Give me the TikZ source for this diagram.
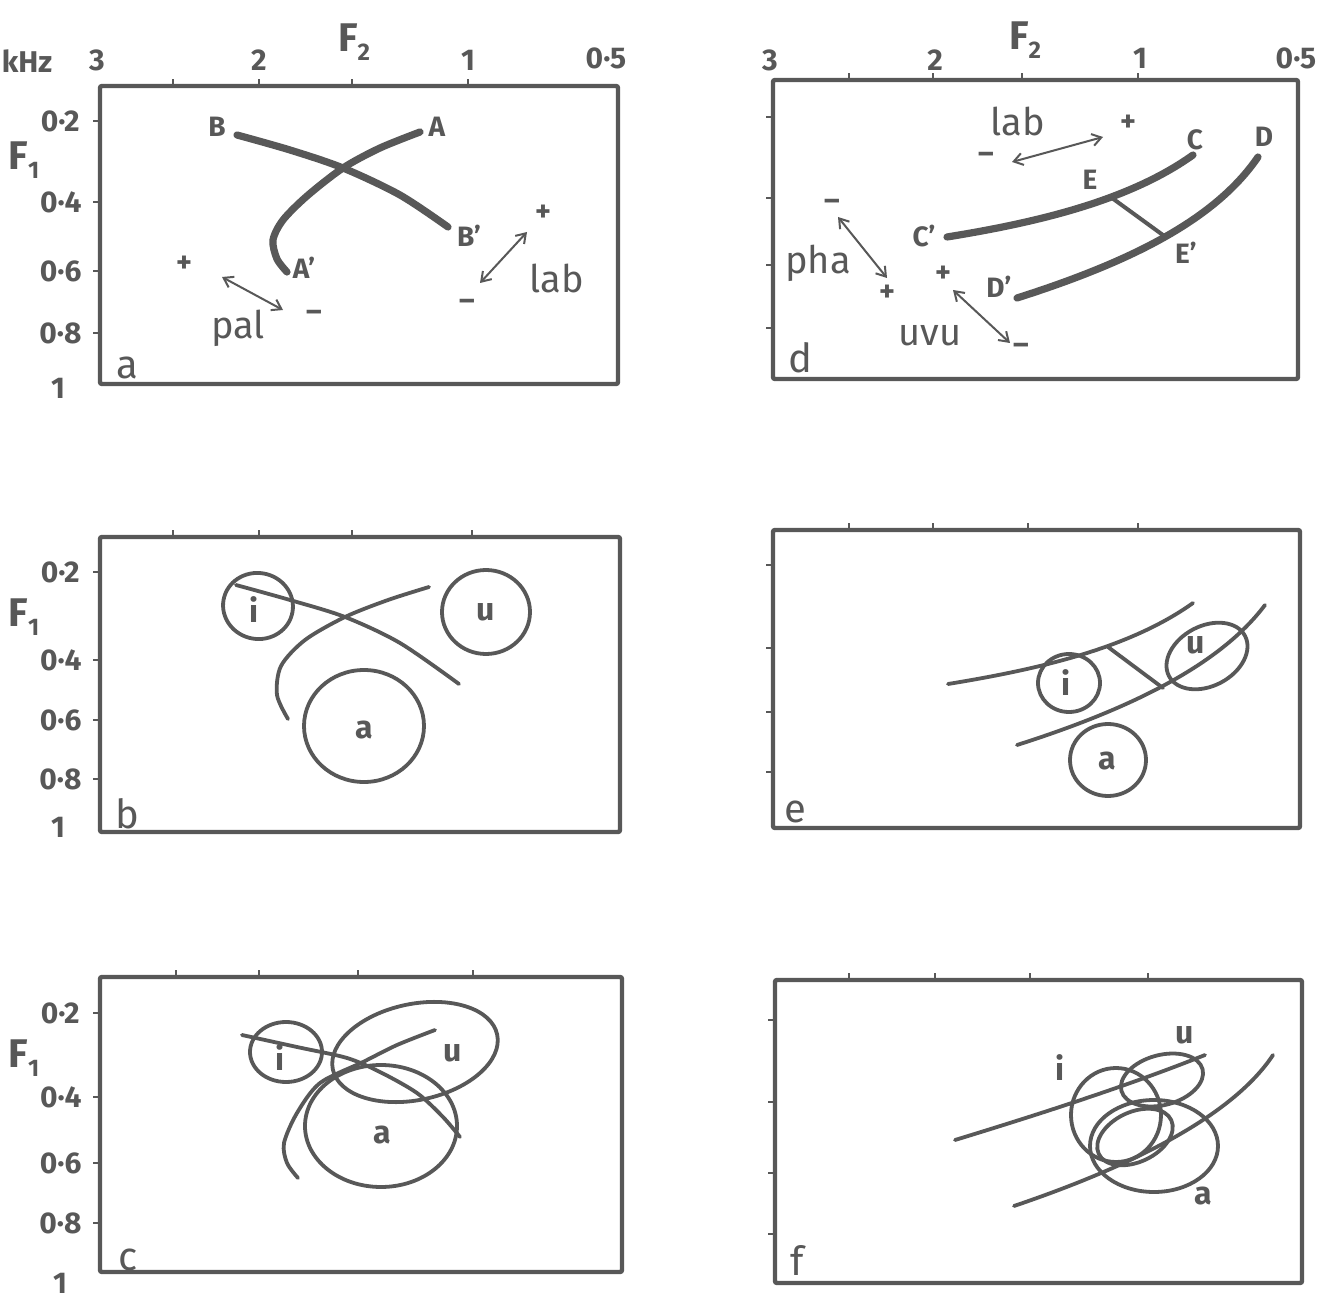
\documentclass[tikz,border=0pt]{standalone}
\usepackage{fontspec}
\setmainfont{Fira Sans}
\usetikzlibrary{arrows.meta}
\definecolor{ink}{RGB}{88,88,88}
\newcommand{\Fsub}[1]{F\raisebox{-0.45ex}{\fontsize{12}{12}\selectfont #1}}
\tikzset{
  every node/.style={text=ink, inner sep=0pt},
  panelframe/.style={draw=ink, line width=2.2pt, rounded corners=1pt},
  tickmark/.style={draw=ink, line width=1.3pt},
  heavycurve/.style={draw=ink, line width=3.6pt, line cap=round},
  lightcurve/.style={draw=ink, line width=1.9pt, line cap=round},
  dblarrow/.style={draw=ink, line width=1pt, {Straight Barb[length=4.5pt,width=6pt]}-{Straight Barb[length=4.5pt,width=6pt]}},
  axisnum/.style={font=\fontsize{15}{15}\selectfont\bfseries},
  axisname/.style={font=\fontsize{20}{20}\selectfont\bfseries},
  ptlabel/.style={font=\fontsize{14}{14}\selectfont\bfseries},
  word/.style={font=\fontsize{19}{19}\selectfont},
  panelid/.style={font=\fontsize{20}{20}\selectfont},
  vowel/.style={font=\fontsize{16}{16}\selectfont\bfseries},
  sign/.style={font=\fontsize{15}{15}\selectfont\bfseries},
}
\begin{document}
\begin{tikzpicture}[x=0.5pt,y=-0.5pt]
\useasboundingbox (0,0) rectangle (1330,1305);
\fill[white] (0,0) rectangle (1330,1305);

% ================= left column axis labels =================
\node[axisname] (F2a) at (354,42) {\Fsub{2}};
\node[axisnum] (kHz) at (27,61) {kHz};
\node[axisnum] (xa3) at (97,60) {3};
\node[axisnum] (xa2) at (259,60) {2};
\node[axisnum] (xa1) at (468,60) {1};
\node[axisnum] (xa05) at (606,58) {0·5};

% ---------- panel a ----------
\draw[panelframe] (100,86) rectangle (618,384);
\foreach \t in {173,259,352,468} \draw[tickmark] (\t,86) -- (\t,79);
\foreach \t in {121,202,271,333} \draw[tickmark] (100,\t) -- (93,\t);
\node[axisnum,anchor=east] (ya02) at (80,121) {0·2};
\node[axisname] (F1a) at (24,160) {\Fsub{1}};
\node[axisnum,anchor=east] (ya04) at (82,202) {0·4};
\node[axisnum,anchor=east] (ya06) at (82,271) {0·6};
\node[axisnum,anchor=east] (ya08) at (82,333) {0·8};
\node[axisnum] (ya1) at (58,388) {1};
\node[panelid] (pa) at (127,368) {a};

\draw[heavycurve] plot[smooth] coordinates {(237,135) (290,150) (343,168) (400,195) (448,227)};
\draw[heavycurve] plot[smooth] coordinates {(420,132) (380,148) (343,168) (307,196) (283,220) (273,240) (277,259) (287,272)};
\node[ptlabel] (lB) at (217,127) {B};
\node[ptlabel] (lA) at (437,127) {A};
\node[ptlabel] (lA2) at (304,268) {A'};
\node[ptlabel] (lB2) at (469,236) {B'};
\node[sign] (pplus) at (184,264) {+};
\node[sign] (pminus) at (314,316) {–};
\node[word] (pal) at (238,328) {pal};
\coordinate (palA) at (222,277);
\coordinate (palB) at (283,310);
\draw[dblarrow] (palA) -- (palB);
\node[sign] (lplus) at (543,213) {+};
\node[sign] (lminus) at (467,305) {–};
\node[word] (laba) at (557,278) {lab};
\coordinate (labA) at (527,232);
\coordinate (labB) at (480,283);
\draw[dblarrow] (labA) -- (labB);

% ---------- panel b ----------
\draw[panelframe] (100,537) rectangle (620,832);
\foreach \t in {173,259,352,472} \draw[tickmark] (\t,537) -- (\t,530);
\foreach \t in {572,660,720,779} \draw[tickmark] (100,\t) -- (93,\t);
\node[axisnum,anchor=east] (yb02) at (80,572) {0·2};
\node[axisname] (F1b) at (24,617) {\Fsub{1}};
\node[axisnum,anchor=east] (yb04) at (82,660) {0·4};
\node[axisnum,anchor=east] (yb06) at (82,720) {0·6};
\node[axisnum,anchor=east] (yb08) at (82,779) {0·8};
\node[axisnum] (yb1) at (58,827) {1};
\node[panelid] (pb) at (127,814) {b};

\draw[lightcurve] plot[smooth] coordinates {(236,585) (290,600) (345,617) (400,643) (459,684)};
\draw[lightcurve] plot[smooth] coordinates {(429,587) (388,600) (345,617) (305,640) (281,666) (277,695) (288,719)};
\draw[lightcurve, shift={(258,606)}, rotate=-10] (0,0) ellipse [x radius=17.5pt, y radius=16.5pt];
\draw[lightcurve] (486,612) ellipse [x radius=22pt, y radius=21pt];
\draw[lightcurve] (364,726) ellipse [x radius=30pt, y radius=28pt];
\node[vowel] (bi) at (254,610) {i};
\node[vowel] (bu) at (486,612) {u};
\node[vowel] (ba) at (364,730) {a};

% ---------- panel c ----------
\draw[panelframe] (100,977) rectangle (622,1272);
\foreach \t in {176,259,358,473} \draw[tickmark] (\t,977) -- (\t,970);
\foreach \t in {1013,1097,1163,1223} \draw[tickmark] (100,\t) -- (93,\t);
\node[axisnum,anchor=east] (yc02) at (80,1013) {0·2};
\node[axisname] (F1c) at (24,1058) {\Fsub{1}};
\node[axisnum,anchor=east] (yc04) at (82,1097) {0·4};
\node[axisnum,anchor=east] (yc06) at (82,1163) {0·6};
\node[axisnum,anchor=east] (yc08) at (82,1223) {0·8};
\node[axisnum] (yc1) at (60,1283) {1};
\node[panelid] (pc) at (128,1260) {c};

\draw[lightcurve] plot[smooth] coordinates {(242,1035) (297,1047) (347,1058) (380,1072) (417,1093) (443,1117) (460,1137)};
\draw[lightcurve] plot[smooth] coordinates {(435,1030) (397,1045) (363,1062) (320,1083) (297,1113) (284,1143) (287,1163) (298,1178)};
\draw[lightcurve] (286,1052) ellipse [x radius=18pt, y radius=15pt];
\draw[lightcurve, shift={(415,1052)}, rotate=12] (0,0) ellipse [x radius=42pt, y radius=24pt];
\draw[lightcurve] (381,1126) ellipse [x radius=38pt, y radius=30.5pt];
\node[vowel] (ci) at (280,1058) {i};
\node[vowel] (cu) at (453,1053) {u};
\node[vowel] (ca) at (382,1135) {a};

% ================= right column =================
\node[axisname] (F2d) at (1025,40) {\Fsub{2}};
\node[axisnum] (xd3) at (770,60) {3};
\node[axisnum] (xd2) at (935,60) {2};
\node[axisnum] (xd1) at (1140,58) {1};
\node[axisnum] (xd05) at (1296,58) {0·5};

% ---------- panel d ----------
\draw[panelframe] (773,80) rectangle (1298,379);
\foreach \t in {849,933,1022,1138} \draw[tickmark] (\t,80) -- (\t,73);
\foreach \t in {117,198,265,328} \draw[tickmark] (773,\t) -- (766,\t);
\node[panelid] (pd) at (800,358) {d};

\draw[heavycurve] (947,237) .. controls (1040,222) and (1130,200) .. (1193,155);
\draw[heavycurve] (1017,298) .. controls (1130,262) and (1215,220) .. (1258,157);
\coordinate (E) at (1112,198);
\coordinate (E2) at (1167,238);
\draw[draw=ink, line width=2pt] (E) -- (E2);
\node[ptlabel] (lC) at (1195,140) {C};
\node[ptlabel] (lD) at (1264,137) {D};
\node[ptlabel] (lE) at (1090,180) {E};
\node[ptlabel] (lE2) at (1186,253) {E'};
\node[ptlabel] (lC2) at (924,236) {C'};
\node[ptlabel] (lD2) at (999,287) {D'};
\node[word] (labd) at (1018,121) {lab};
\node[sign] (dlplus) at (1128,123) {+};
\node[sign] (dlminus) at (986,158) {–};
\coordinate (dlabA) at (1012,162);
\coordinate (dlabB) at (1103,137);
\draw[dblarrow] (dlabA) -- (dlabB);
\node[word] (pha) at (818,263) {pha};
\node[sign] (phminus) at (832,205) {–};
\node[sign] (phplus) at (887,293) {+};
\coordinate (phaA) at (838,217);
\coordinate (phaB) at (887,278);
\draw[dblarrow] (phaA) -- (phaB);
\node[sign] (uvplus) at (943,274) {+};
\node[word] (uvu) at (930,336) {uvu};
\node[sign] (uvminus) at (1021,349) {–};
\coordinate (uvuA) at (953,290);
\coordinate (uvuB) at (1010,343);
\draw[dblarrow] (uvuA) -- (uvuB);

% ---------- panel e ----------
\draw[panelframe] (773,530) rectangle (1300,828);
\foreach \t in {849,933,1028,1138} \draw[tickmark] (\t,530) -- (\t,523);
\foreach \t in {565,648,712,772} \draw[tickmark] (773,\t) -- (766,\t);
\node[panelid] (pe) at (795,812) {e};

\draw[lightcurve] (948,684) .. controls (1040,669) and (1130,648) .. (1193,603);
\draw[lightcurve] (1017,745) .. controls (1130,709) and (1220,665) .. (1265,605);
\coordinate (eE) at (1108,647);
\coordinate (eE2) at (1163,688);
\draw[lightcurve] (eE) -- (eE2);
\draw[lightcurve] (1069,683) ellipse [x radius=15.5pt, y radius=14.5pt];
\draw[lightcurve, shift={(1207,656)}, rotate=28] (0,0) ellipse [x radius=21.5pt, y radius=15pt];
\draw[lightcurve] (1108,760) ellipse [x radius=19pt, y radius=18pt];
\node[vowel] (ei) at (1066,683) {i};
\node[vowel] (eu) at (1196,645) {u};
\node[vowel] (ea) at (1107,761) {a};

% ---------- panel f ----------
\draw[panelframe] (775,980) rectangle (1302,1283);
\foreach \t in {849,935,1030,1148} \draw[tickmark] (\t,980) -- (\t,973);
\foreach \t in {1020,1102,1173,1234} \draw[tickmark] (775,\t) -- (768,\t);
\node[panelid] (pf) at (797,1260) {f};

\draw[lightcurve] (955,1140) .. controls (1040,1114) and (1130,1085) .. (1205,1055);
\draw[lightcurve] (1014,1206) .. controls (1120,1170) and (1230,1120) .. (1273,1055);
\draw[lightcurve] (1116,1115) ellipse [x radius=22.5pt, y radius=23.5pt];
\draw[lightcurve, shift={(1162,1080)}, rotate=15] (0,0) ellipse [x radius=21pt, y radius=12.5pt];
\draw[lightcurve] (1154,1146) ellipse [x radius=32pt, y radius=23pt];
\draw[lightcurve, shift={(1135,1137)}, rotate=25] (0,0) ellipse [x radius=20pt, y radius=12.5pt];
\node[vowel] (fi) at (1060,1068) {i};
\node[vowel] (fu) at (1185,1035) {u};
\node[vowel] (fa) at (1203,1196) {a};
\end{tikzpicture}
\end{document}
